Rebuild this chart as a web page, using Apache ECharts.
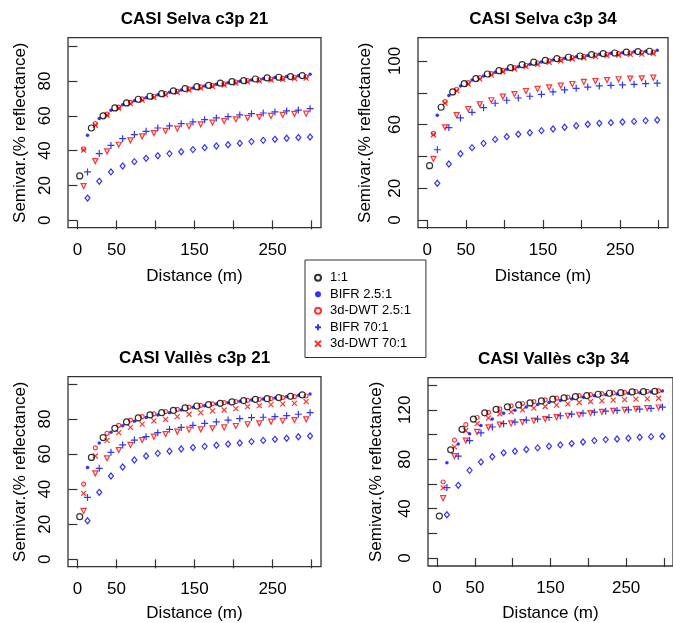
<!DOCTYPE html>
<html>
<head>
<meta charset="utf-8">
<script src="https://cdn.jsdelivr.net/npm/echarts@6/dist/echarts.min.js"></script>
<style>html,body{margin:0;padding:0;background:#fff;}#c{width:673px;height:623px;}</style>
</head>
<body>
<div id="c"></div>
<script>
// lag distances (m)
const distBlack = [3,18,33,48,63,78,93,108,123,138,153,168,183,198,213,228,243,258,273,288];
const distRed   = [8,23,38,53,68,83,98,113,128,143,158,173,188,203,218,233,248,263,278,293];
const distBlue  = [13,28,43,58,73,88,103,118,133,148,163,178,193,208,223,238,253,268,283,298];

const xTicks = [0,50,100,150,200,250,300];
const xTickLabels = [0,50,150,250];

const seriesNames = ['1:1','BIFR 2.5:1','3d-DWT 2.5:1','BIFR 70:1','3d-DWT 70:1','BIFR (other)','3d-DWT (other)'];
const panelTitles = ['CASI Selva c3p 21','CASI Selva c3p 34','CASI Vallès c3p 21','CASI Vallès c3p 34'];

// Panel 1: CASI Selva c3p 21
const selva21_11      = [25.5,53,60,64.5,67.4,69.5,71.2,72.7,74.3,75.6,76.7,77.5,78.7,79.6,80.2,81.1,81.7,82.1,82.5,83.1];
const selva21_bifr25  = [48.8,58.4,63.2,66.4,68.7,70.4,72,73.5,74.8,76,77.1,78.1,79,79.8,80.6,81.3,81.9,82.5,82.9,83.8];
const selva21_dwt25   = [41,55.5,61,65,67.7,69.7,71.2,72.7,74,75.4,76.6,77.5,78.3,79.4,80.2,80.6,81.1,81.5,82.1,82.3];
const selva21_bifr70  = [27.8,38.3,43,46.9,49.2,51.1,53,54.2,55.5,56.5,57.8,58.8,59.5,60.5,61.2,61.6,62.2,62.8,63.3,64.1];
const selva21_dwt70   = [40.3,54.6,60.3,64.3,67,69,70.6,72,73.4,74.7,75.9,76.8,77.6,78.7,79.5,80,80.5,80.9,81.4,81.6];
const selva21_bifrO   = [12.8,22.4,27.8,31.2,33.7,35.6,37.1,38.3,39.4,40.6,41.7,42.7,43.4,44.2,45.2,45.9,46.5,47.1,47.5,47.8];
const selva21_dwtO    = [19.7,34,39.6,43.4,45.9,48.2,50.1,51.3,52.6,54,55.1,56.1,57,58,58.8,59.3,59.9,60.5,61.1,61.2];

// Panel 2: CASI Selva c3p 34
const selva34_11      = [34.2,70.9,80.5,85.7,88.9,91.8,93.9,95.8,97.7,99.2,100.4,101.5,102.3,103.1,104,104.6,105,105.5,105.9,106.1];
const selva34_bifr25  = [65.8,78.2,84.3,88,90.6,92.9,94.8,96.4,97.9,99.4,100.6,101.7,102.7,103.4,104.2,104.8,105.2,105.7,106.1,106.7];
const selva34_dwt25   = [54.5,74.4,82.2,86.4,89.5,92,94.1,95.8,97.3,98.7,100,101,102.1,102.9,103.6,104.2,104.6,105,105.2,105.5];
const selva34_bifr70  = [44.2,58.1,64.2,67.7,70.6,73.4,75.3,76.7,77.8,79,80.5,81.8,82.8,83.6,84.3,84.7,84.9,85.3,85.7,86];
const selva34_dwt70   = [53.6,73.5,81.3,85.5,88.6,91.1,93.2,94.9,96.4,97.8,99.1,100.1,101.2,102,102.7,103.3,103.7,104.1,104.3,104.6];
const selva34_bifrO   = [23.1,35.2,41.7,45.5,48.2,50.7,52.4,53.9,54.9,56.2,57.2,58.3,59.3,60.2,60.8,61.2,61.6,62,62.5,62.9];
const selva34_dwtO    = [38.4,58.3,66,69.8,72.7,75.3,77.6,79.2,81.1,82.4,83.4,84.5,85.5,86.8,87.4,88,88.5,88.9,89.1,89.5];

// Panel 3: CASI Vallès c3p 21
const valles21_11     = [24.3,58.1,69.4,74.7,78.3,80.6,82.3,83.6,84.9,86.3,87.4,88.2,88.9,89.7,90.5,91.2,91.6,92.2,92.9,93.7];
const valles21_bifr25 = [52.3,66.3,72.4,76.2,78.7,80.8,82.3,83.6,85.1,86.7,87.6,88.6,89.3,90.1,90.8,91.4,92,92.7,93.5,94.3];
const valles21_dwt25  = [42.9,63.5,71.8,76.4,79.4,81.3,82.9,84.2,85.5,86.8,87.8,88.6,89.3,89.9,90.6,91.2,91.6,92.2,92.7,93.1];
const valles21_bifr70 = [35.3,51.9,61,65.2,68,69.9,72.2,74.1,75.2,76.4,77.5,78.3,79.4,80.2,80.8,81,81.3,81.9,82.7,83.6];
const valles21_dwt70  = [37.6,58.9,67.8,72.2,75.2,77.1,78.9,79.8,81.3,82.7,83.6,84.6,85.1,85.9,87,87.6,88.2,88.6,88.9,89.9];
const valles21_bifrO  = [22,38.2,47.5,52.6,56.6,58.9,60.4,61.6,62.9,63.7,64.4,65,65.7,66.3,67.1,67.8,68.4,69,69.9,70.3];
const valles21_dwtO   = [27.6,49,57.6,62.3,65.2,68,69.9,71.4,72.8,73.9,74.1,74.7,75.2,76,77,77.5,78.5,79,79.4,79.8];

// Panel 4: CASI Vallès c3p 34
const valles34_11     = [34,87.6,104.2,112.5,117.6,120.3,122.4,124,125.6,127.2,128.6,129.7,130.7,131.5,132.6,133.4,133.9,134.5,134.7,135];
const valles34_bifr25 = [77.1,92.4,100.7,107.4,112.5,117.3,119.7,122.2,124.3,125.9,127.5,128.8,130.2,131.3,132.1,132.9,133.4,133.9,134.5,135.3];
const valles34_dwt25  = [61.6,95.4,108,113.8,117.9,120.8,123.2,125.1,126.7,128,129.4,130.2,131.5,132.3,133.1,133.7,134.2,134.7,135,135.3];
const valles34_bifr70 = [57.1,82.5,95.1,101.3,106.1,108.8,110.1,111.7,112.5,113.8,115.2,116.5,117.3,118.1,118.9,119.5,120,120.5,121.1,122.2];
const valles34_dwt70  = [56.8,90,103.1,108.8,113.3,116.8,118.4,120,121.4,122.7,123.8,124.8,125.9,126.7,127.2,127.8,128.3,128.6,128.9,129.4];
const valles34_bifrO  = [35.1,58.9,71,77.7,82,85.2,86.5,87.9,89.2,90.5,91.6,92.7,94,95.1,95.9,96.4,97,97.8,98.3,98.6];
const valles34_dwtO   = [48.5,82.5,95.1,102.1,105.8,108,109,110.1,111.2,112.5,114.1,115.2,116,117.3,118.4,119.2,120,120.8,121.3,121.9];

const yTicks = [[0,20,40,60,80,100],[0,20,40,60,80,100],[0,20,40,60,80,100],[0,20,40,60,80,100,120,140]];
const yTickLabels = [[0,20,40,60,80],[0,20,60,100],[0,20,40,60,80],[0,40,80,120]];

const panels = [
  [selva21_11, selva21_bifr25, selva21_dwt25, selva21_bifr70, selva21_dwt70, selva21_bifrO, selva21_dwtO],
  [selva34_11, selva34_bifr25, selva34_dwt25, selva34_bifr70, selva34_dwt70, selva34_bifrO, selva34_dwtO],
  [valles21_11, valles21_bifr25, valles21_dwt25, valles21_bifr70, valles21_dwt70, valles21_bifrO, valles21_dwtO],
  [valles34_11, valles34_bifr25, valles34_dwt25, valles34_bifr70, valles34_dwt70, valles34_bifrO, valles34_dwtO]
];
const seriesDist = [distBlack, distBlue, distRed, distBlue, distRed, distBlue, distRed];

// layout
const FONT = '"Liberation Sans", Arial, sans-serif';
const grids = [
  {left:68, top:37.7, width:253, height:190},
  {left:418, top:37.7, width:250, height:190},
  {left:68, top:376.7, width:253, height:190},
  {left:428, top:377.7, width:251, height:189.6}
];
const yRanges = [[-4.2,104.8],[-4.8,114.6],[-4.2,104.1],[-6.4,146]];
const titleY = [11, 11, 349.5, 351];
const xNameGap = [40, 40, 38, 39];
const yNameGap = [39, 44, 39, 43];

const RED = '#ff0000', BLUE = '#0000ff';
const CLR = 'rgba(255,255,255,0)';
const styles = [
  {symbol:'circle', symbolSize:6, itemStyle:{color:CLR, borderColor:'#000', borderWidth:1.2}},
  {symbol:'circle', symbolSize:3.5, itemStyle:{color:BLUE, borderWidth:0}},
  {symbol:'circle', symbolSize:4, itemStyle:{color:CLR, borderColor:RED, borderWidth:1.2}},
  {symbol:'path://M5,0L5,10M0,5L10,5', symbolSize:7, itemStyle:{color:CLR, borderColor:BLUE, borderWidth:1.2}},
  {symbol:'path://M0,0L10,10M0,10L10,0', symbolSize:5, itemStyle:{color:CLR, borderColor:RED, borderWidth:1.2}},
  {symbol:'diamond', symbolSize:[5,6], itemStyle:{color:CLR, borderColor:BLUE, borderWidth:1.2}},
  {symbol:'triangle', symbolRotate:180, symbolSize:5, itemStyle:{color:CLR, borderColor:RED, borderWidth:1.2}}
];
const drawOrder = [5,6,3,4,1,2,0];

const option = {
  animation:false,
  backgroundColor:'#fff',
  textStyle:{fontFamily:FONT, color:'#000'},
  title: panelTitles.map((t,i)=>({
    text:t, left: grids[i].left + grids[i].width/2, top: titleY[i], textAlign:'center', padding:0,
    textStyle:{fontFamily:FONT, fontWeight:'bold', fontSize:17, color:'#000'}
  })),
  legend:{
    data: seriesNames.slice(0,5),
    left:305, top:260, orient:'vertical',
    itemWidth:14, itemHeight:6, itemGap:3,
    symbolKeepAspect:true,
    padding:[11,15,7,9],
    borderColor:'#333', borderWidth:1, backgroundColor:'#fff',
    selectedMode:false,
    textStyle:{fontFamily:FONT, fontSize:13, color:'#000', lineHeight:13.5}
  },
  grid: grids.map(g=>Object.assign({show:true, borderColor:'#333', borderWidth:1.3, backgroundColor:'transparent', containLabel:false}, g)),
  xAxis: grids.map((g,i)=>({
    gridIndex:i, type:'value', min:-12, max:312,
    axisLine:{show:false}, splitLine:{show:false},
    axisTick:{show:true, length:9, customValues:xTicks, lineStyle:{color:'#333', width:1.2}},
    axisLabel:{customValues:xTickLabels, margin:14, fontSize:17, color:'#000', fontFamily:FONT},
    name:'Distance (m)', nameLocation:'middle', nameGap:xNameGap[i],
    nameTextStyle:{fontSize:17, color:'#000', fontFamily:FONT}
  })),
  yAxis: grids.map((g,i)=>({
    gridIndex:i, type:'value', min:yRanges[i][0], max:yRanges[i][1],
    axisLine:{show:false}, splitLine:{show:false},
    axisTick:{show:true, length:9, customValues:yTicks[i], lineStyle:{color:'#333', width:1.2}},
    axisLabel:{customValues:yTickLabels[i], rotate:90, margin:14, fontSize:17, color:'#000', fontFamily:FONT},
    name:'Semivar.(% reflectance)', nameLocation:'middle', nameGap:yNameGap[i],
    nameTextStyle:{fontSize:17, color:'#000', fontFamily:FONT}
  })),
  series: []
};

panels.forEach((vals,p)=>{
  drawOrder.forEach(s=>{
    option.series.push(Object.assign({
      type:'scatter', name:seriesNames[s], xAxisIndex:p, yAxisIndex:p,
      data: seriesDist[s].map((d,k)=>[d, vals[s][k]]),
      z: 2 + drawOrder.indexOf(s)
    }, JSON.parse(JSON.stringify(styles[s]))));
  });
});

const chart = echarts.init(document.getElementById('c'), null, {renderer:'canvas'});
chart.setOption(option);
</script>
</body>
</html>
